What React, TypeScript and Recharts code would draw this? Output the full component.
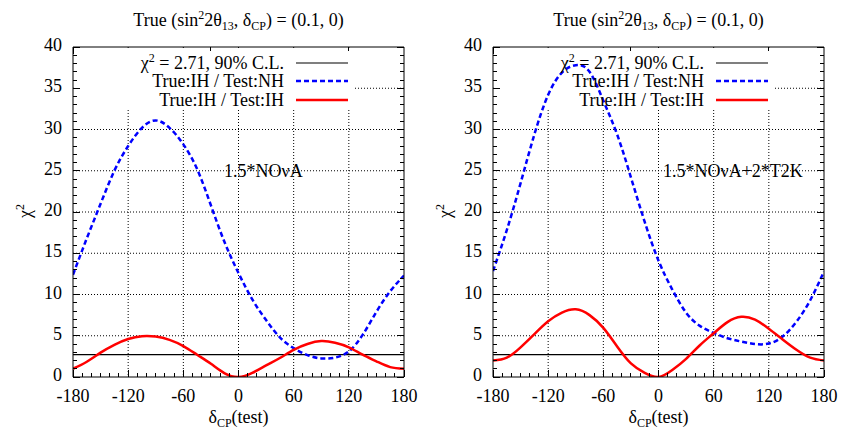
import {
  LineChart,
  Line,
  XAxis,
  YAxis,
  CartesianGrid,
  ReferenceArea,
  Legend,
} from 'recharts';

// test value of delta_CP (degrees)
const DELTA = [
  -180, -165, -150, -135, -120, -105, -90, -75, -60, -45, -30, -15, 0,
  15, 30, 45, 60, 75, 90, 105, 120, 135, 150, 165, 180,
];

// 1.5*NOvA
const NOVA_TEST_NH = [
  12.4, 16.8, 21.0, 25.0, 28.0, 30.2, 31.1, 30.2, 28.2, 25.2, 20.8, 16.3, 12.6,
  9.4, 6.9, 4.8, 3.5, 2.65, 2.25, 2.35, 3.1, 5.1, 7.9, 10.4, 12.3,
];
const NOVA_TEST_IH = [
  1.0, 1.85, 2.95, 3.9, 4.6, 4.95, 4.9, 4.5, 3.75, 2.7, 1.6, 0.45, 0.0,
  0.5, 1.4, 2.3, 3.3, 4.0, 4.35, 4.15, 3.6, 2.7, 1.9, 1.2, 1.0,
];

// 1.5*NOvA+2*T2K
const COMBO_TEST_NH = [
  12.85, 17.8, 23.5, 29.4, 34.2, 36.9, 37.8, 37.0, 33.5, 29.4, 24.2, 18.8, 14.1,
  10.6, 7.8, 6.2, 5.35, 4.7, 4.3, 4.0, 4.05, 4.9, 6.7, 9.3, 12.8,
];
const COMBO_TEST_IH = [
  2.0, 2.35, 3.6, 5.2, 6.75, 7.8, 8.2, 7.5, 5.95, 3.7, 1.65, 0.5, 0.0,
  0.85, 2.2, 3.85, 5.3, 6.65, 7.3, 6.95, 5.85, 4.55, 3.3, 2.35, 2.0,
];

const CL_90 = 2.71;

const X_TICKS = Array.from({ length: 37 }, (_, i) => -180 + i * 10);
const Y_TICKS = Array.from({ length: 41 }, (_, i) => i);
const GRID_X = [-120, -60, 0, 60, 120];
const GRID_Y = [5, 10, 15, 20, 25, 30, 35];

const FONT = "'Liberation Serif', 'DejaVu Serif', 'Times New Roman', serif";
const BLUE = '#0000ff';
const RED = '#ff0000';

const buildRows = (nh: number[], ih: number[]) =>
  DELTA.map((d, i) => ({ d, nh: nh[i], ih: ih[i], cl: CL_90 }));

const Sup = ({ children }: { children: string }) => (
  <span style={{ fontSize: 12, verticalAlign: '7px', lineHeight: 0 }}>{children}</span>
);
const Sub = ({ children }: { children: string }) => (
  <span style={{ fontSize: 12, verticalAlign: '-4px', lineHeight: 0 }}>{children}</span>
);

// gnuplot-style ticks: drawn inward, longer on labelled values
const bottomTick = (props: any) => {
  const { x, y, payload } = props;
  const major = payload.value % 60 === 0;
  return (
    <g>
      <line x1={x} y1={y} x2={x} y2={y - (major ? 7 : 4)} stroke="#000" shapeRendering="crispEdges" />
      {major && (
        <text x={x} y={y + 21} textAnchor="middle" dominantBaseline="middle"
          fontFamily={FONT} fontSize={18} fill="#000">
          {payload.value}
        </text>
      )}
    </g>
  );
};

const topTick = (props: any) => {
  const { x, y, payload } = props;
  const major = payload.value % 60 === 0;
  return <line x1={x} y1={y} x2={x} y2={y + (major ? 7 : 4)} stroke="#000" shapeRendering="crispEdges" />;
};

const leftTick = (props: any) => {
  const { x, y, payload } = props;
  const major = payload.value % 5 === 0;
  return (
    <g>
      <line x1={x} y1={y} x2={x + (major ? 7 : 4)} y2={y} stroke="#000" shapeRendering="crispEdges" />
      {major && (
        <text x={x - 11} y={y} textAnchor="end" dominantBaseline="middle"
          fontFamily={FONT} fontSize={18} fill="#000">
          {payload.value}
        </text>
      )}
    </g>
  );
};

const rightTick = (props: any) => {
  const { x, y, payload } = props;
  const major = payload.value % 5 === 0;
  return <line x1={x} y1={y} x2={x - (major ? 7 : 4)} y2={y} stroke="#000" shapeRendering="crispEdges" />;
};

const legendRows = [
  { key: 'cl', label: <>χ<Sup>2</Sup> = 2.71, 90% C.L.</>, color: '#000', width: 1.2, dash: undefined },
  { key: 'nh', label: <>True:IH / Test:NH</>, color: BLUE, width: 2.5, dash: '5 3' },
  { key: 'ih', label: <>True:IH / Test:IH</>, color: RED, width: 2.5, dash: undefined },
];

const renderLegend = () => (
  <div style={{ fontFamily: FONT, fontSize: 18, color: '#000' }}>
    {legendRows.map((r) => (
      <div key={r.key} style={{ display: 'flex', justifyContent: 'flex-end', alignItems: 'center', height: 18.3, lineHeight: '18px' }}>
        <span style={{ whiteSpace: 'nowrap' }}>{r.label}</span>
        <svg width={52} height={6} style={{ marginLeft: 12 }}>
          <line x1={0} y1={3} x2={52} y2={3} stroke={r.color} strokeWidth={r.width} strokeDasharray={r.dash} />
        </svg>
      </div>
    ))}
  </div>
);

interface PanelProps {
  nh: number[];
  ih: number[];
  tag: string;
  tagLeft: number;
}

const Panel = ({ nh, ih, tag, tagLeft }: PanelProps) => {
  const data = buildRows(nh, ih);
  return (
    <div style={{ position: 'relative', width: 420, height: 434, fontFamily: FONT }}>
      <LineChart width={420} height={434} data={data}
        margin={{ top: 46, right: 15, bottom: 56, left: 72 }}>
        <CartesianGrid xAxisId="b" yAxisId="l" stroke="#000" strokeWidth={1}
          strokeDasharray="1 2" verticalValues={GRID_X} horizontalValues={GRID_Y} />
        {/* keep the key box clear of grid lines */}
        <ReferenceArea xAxisId="b" yAxisId="l" x1={-179} x2={126} y1={32.6} y2={39.8}
          fill="#fff" fillOpacity={1} stroke="none" />
        <XAxis xAxisId="b" dataKey="d" type="number" domain={[-180, 180]} allowDataOverflow
          ticks={X_TICKS} interval={0} height={1} tickSize={0} tickMargin={0}
          tickLine={false} tick={bottomTick} axisLine={{ stroke: '#000' }} />
        <XAxis xAxisId="t" orientation="top" type="number" domain={[-180, 180]} allowDataOverflow
          ticks={X_TICKS} interval={0} height={1} tickSize={0} tickMargin={0}
          tickLine={false} tick={topTick} axisLine={{ stroke: '#000' }} />
        <YAxis yAxisId="l" type="number" domain={[0, 40]} allowDataOverflow
          ticks={Y_TICKS} interval={0} width={1} tickSize={0} tickMargin={0}
          tickLine={false} tick={leftTick} axisLine={{ stroke: '#000' }} />
        <YAxis yAxisId="r" orientation="right" type="number" domain={[0, 40]} allowDataOverflow
          ticks={Y_TICKS} interval={0} width={1} tickSize={0} tickMargin={0}
          tickLine={false} tick={rightTick} axisLine={{ stroke: '#000' }} />
        <Legend layout="vertical" align="center" verticalAlign="middle"
          content={renderLegend}
          wrapperStyle={{ position: 'absolute', left: 0, top: 54, width: 348 }} />
        <Line xAxisId="b" yAxisId="l" dataKey="cl" name="χ2 = 2.71, 90% C.L."
          stroke="#000" strokeWidth={1.2} dot={false} isAnimationActive={false} />
        <Line xAxisId="b" yAxisId="l" dataKey="nh" name="True:IH / Test:NH" type="natural"
          stroke={BLUE} strokeWidth={2.5} strokeDasharray="5 3" dot={false} isAnimationActive={false} />
        <Line xAxisId="b" yAxisId="l" dataKey="ih" name="True:IH / Test:IH" type="natural"
          stroke={RED} strokeWidth={2.5} dot={false} isAnimationActive={false} />
      </LineChart>

      <div style={{ position: 'absolute', left: 73, width: 331, top: 9, textAlign: 'center', fontSize: 18, lineHeight: '22px', whiteSpace: 'nowrap' }}>
        True (sin<Sup>2</Sup>2θ<Sub>13</Sub>, δ<Sub>CP</Sub>) = (0.1, 0)
      </div>
      <div style={{ position: 'absolute', left: tagLeft, top: 161, fontSize: 18, lineHeight: '20px', whiteSpace: 'nowrap' }}>
        {tag}
      </div>
      <div style={{ position: 'absolute', left: 73, width: 331, top: 406, textAlign: 'center', fontSize: 18, lineHeight: '22px' }}>
        δ<Sub>CP</Sub>(test)
      </div>
      <div style={{ position: 'absolute', left: 25, top: 211, transform: 'translate(-50%, -50%) rotate(-90deg)', fontSize: 18, lineHeight: '22px', whiteSpace: 'nowrap' }}>
        χ<Sup>2</Sup>
      </div>
    </div>
  );
};

const App = () => (
  <div style={{ position: 'absolute', left: 0, top: 0, width: 841, height: 434, background: '#fff', display: 'flex' }}>
    <Panel nh={NOVA_TEST_NH} ih={NOVA_TEST_IH} tag="1.5*NOνA" tagLeft={224} />
    <Panel nh={COMBO_TEST_NH} ih={COMBO_TEST_IH} tag="1.5*NOνA+2*T2K" tagLeft={243} />
  </div>
);

export default App;
